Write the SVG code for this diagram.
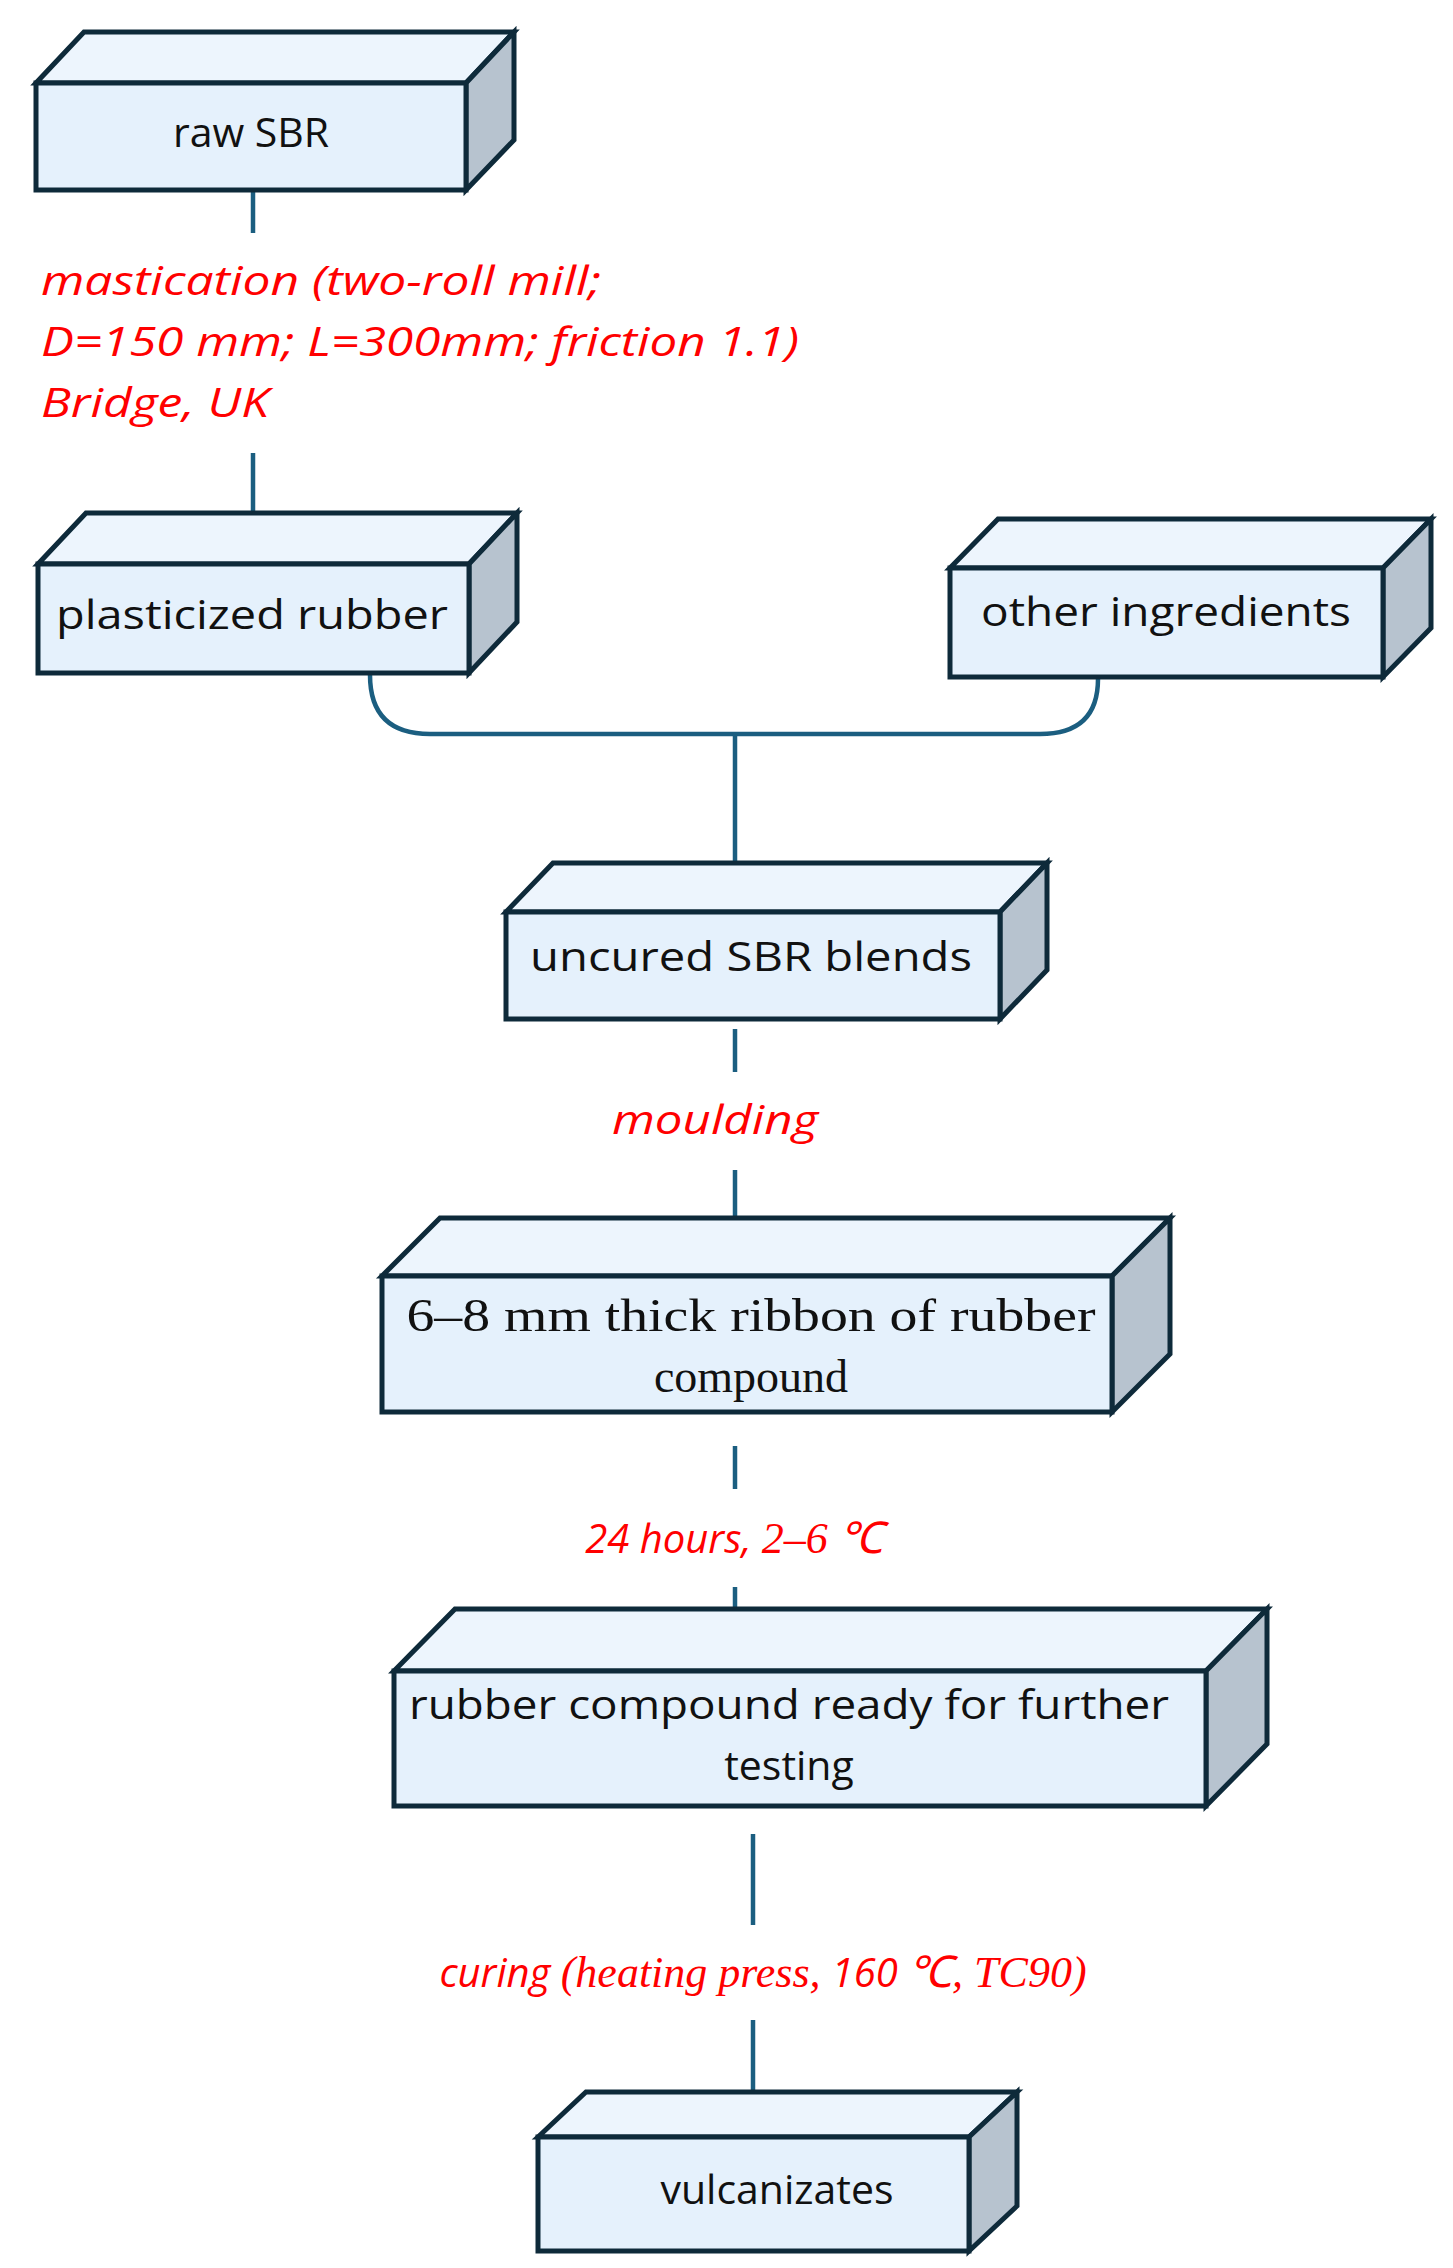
<svg xmlns="http://www.w3.org/2000/svg" width="1453" height="2268" viewBox="0 0 1453 2268">
<style>
.f{fill:#E5F1FC;stroke:#0E2A3A;stroke-width:5;stroke-linejoin:miter}
.t{fill:#EDF5FD;stroke:#0E2A3A;stroke-width:5}
.s{fill:#B7C3CF;stroke:#0E2A3A;stroke-width:5}
.c{fill:none;stroke:#1B5E80;stroke-width:4.5}
.bt{font-family:"Open Sans","Liberation Sans",sans-serif;font-size:41px;fill:#111;text-anchor:middle}
.st{font-family:"Liberation Serif",serif;font-size:46px;fill:#111;text-anchor:middle}
.rt{font-family:"Open Sans","Liberation Sans",sans-serif;font-style:italic;font-size:40px;fill:#FF0000}
.rs{font-family:"Liberation Serif",serif;font-style:italic;font-size:44px;fill:#FF0000}
</style>
<defs>
<marker id="ah" markerWidth="8" markerHeight="8" refX="4" refY="6" orient="auto" markerUnits="userSpaceOnUse" viewBox="0 0 8 8">
<path d="M0,0 L8,0 L4,8 Z" fill="#1B5E80"/>
</marker>
<marker id="a" viewBox="0 0 10 10" refX="5" refY="10" markerWidth="20" markerHeight="20" markerUnits="userSpaceOnUse" orient="auto-start-reverse">
<path d="M0,0 L10,0 L5,10 Z" fill="#1B5E80"/>
</marker>
</defs>
<g id="connectors">
<line class="c" x1="253" y1="192" x2="253" y2="233"/>
<path class="c" d="M253,453 V520" />
<path d="M243,515 L263,515 L253,535 Z" fill="#1B5E80"/>
<path class="c" d="M370,675 Q370,734 430,734 H1040 Q1098,734 1098,679"/>
<path class="c" d="M735,734 V868"/>
<path d="M725,864 L745,864 L735,884 Z" fill="#1B5E80"/>
<line class="c" x1="735" y1="1029" x2="735" y2="1072"/>
<path class="c" d="M735,1170 V1232"/>
<path d="M725,1228 L745,1228 L735,1248 Z" fill="#1B5E80"/>
<line class="c" x1="735" y1="1446" x2="735" y2="1489"/>
<path class="c" d="M735,1587 V1641"/>
<path d="M725,1637 L745,1637 L735,1657 Z" fill="#1B5E80"/>
<line class="c" x1="753" y1="1834" x2="753" y2="1925"/>
<path class="c" d="M753,2020 V2098"/>
<path d="M743,2094 L763,2094 L753,2114 Z" fill="#1B5E80"/>
</g>
<g id="raw-sbr">
<path class="t" d="M36,83 L84,32 H514 L466,83 Z"/>
<path class="s" d="M466,83 L514,32 V140 L466,190 Z"/>
<rect class="f" x="36" y="83" width="430" height="107"/>
<text class="bt" x="251" y="147">raw SBR</text>
</g>
<g id="mastication-label">
<text class="rt" x="41" y="295" textLength="560" lengthAdjust="spacingAndGlyphs">mastication (two-roll mill;</text>
<text class="rt" x="41" y="356" textLength="758" lengthAdjust="spacingAndGlyphs">D=150 mm; L=300mm; friction 1.1)</text>
<text class="rt" x="41" y="417" textLength="228" lengthAdjust="spacingAndGlyphs">Bridge, UK</text>
</g>
<g id="plasticized-rubber">
<path class="t" d="M38,564 L86,513 H517 L469,564 Z"/>
<path class="s" d="M469,564 L517,513 V622 L469,673 Z"/>
<rect class="f" x="38" y="564" width="431" height="109"/>
<text class="bt" x="252" y="629" textLength="392" lengthAdjust="spacingAndGlyphs">plasticized rubber</text>
</g>
<g id="other-ingredients">
<path class="t" d="M950,568 L998,519 H1431 L1383,568 Z"/>
<path class="s" d="M1383,568 L1431,519 V628 L1383,677 Z"/>
<rect class="f" x="950" y="568" width="433" height="109"/>
<text class="bt" x="1166" y="626" textLength="370" lengthAdjust="spacingAndGlyphs">other ingredients</text>
</g>
<g id="uncured-sbr-blends">
<path class="t" d="M506,912 L553,863 H1047 L1000,912 Z"/>
<path class="s" d="M1000,912 L1047,863 V970 L1000,1019 Z"/>
<rect class="f" x="506" y="912" width="494" height="107"/>
<text class="bt" x="751" y="971" textLength="442" lengthAdjust="spacingAndGlyphs">uncured SBR blends</text>
</g>
<g id="moulding-label">
<text class="rt" x="715" y="1134" text-anchor="middle" textLength="206" lengthAdjust="spacingAndGlyphs">moulding</text>
</g>
<g id="ribbon">
<path class="t" d="M382,1276 L440,1218 H1170 L1112,1276 Z"/>
<path class="s" d="M1112,1276 L1170,1218 V1354 L1112,1412 Z"/>
<rect class="f" x="382" y="1276" width="730" height="136"/>
<text class="st" x="751" y="1331" textLength="689" lengthAdjust="spacingAndGlyphs">6–8 mm thick ribbon of rubber</text>
<text class="st" x="751" y="1392">compound</text>
</g>
<g id="storage-label">
<text x="734" y="1553" text-anchor="middle"><tspan class="rt">24 hours, </tspan><tspan class="rs">2–6  ℃</tspan></text>
</g>
<g id="ready-compound">
<path class="t" d="M394,1671 L455,1609 H1267 L1206,1671 Z"/>
<path class="s" d="M1206,1671 L1267,1609 V1744 L1206,1806 Z"/>
<rect class="f" x="394" y="1671" width="812" height="135"/>
<text class="bt" x="789" y="1719" textLength="760" lengthAdjust="spacingAndGlyphs">rubber compound ready for further</text>
<text class="bt" x="789" y="1780">testing</text>
</g>
<g id="curing-label">
<text x="763" y="1987" text-anchor="middle"><tspan class="rt">curing </tspan><tspan class="rs">(heating press, </tspan><tspan class="rt">160 </tspan><tspan class="rs"> ℃, TC90)</tspan></text>
</g>
<g id="vulcanizates">
<path class="t" d="M538,2137 L586,2092 H1017 L969,2137 Z"/>
<path class="s" d="M969,2137 L1017,2092 V2206 L969,2251 Z"/>
<rect class="f" x="538" y="2137" width="431" height="114"/>
<text class="bt" x="777" y="2204">vulcanizates</text>
</g>
</svg>
